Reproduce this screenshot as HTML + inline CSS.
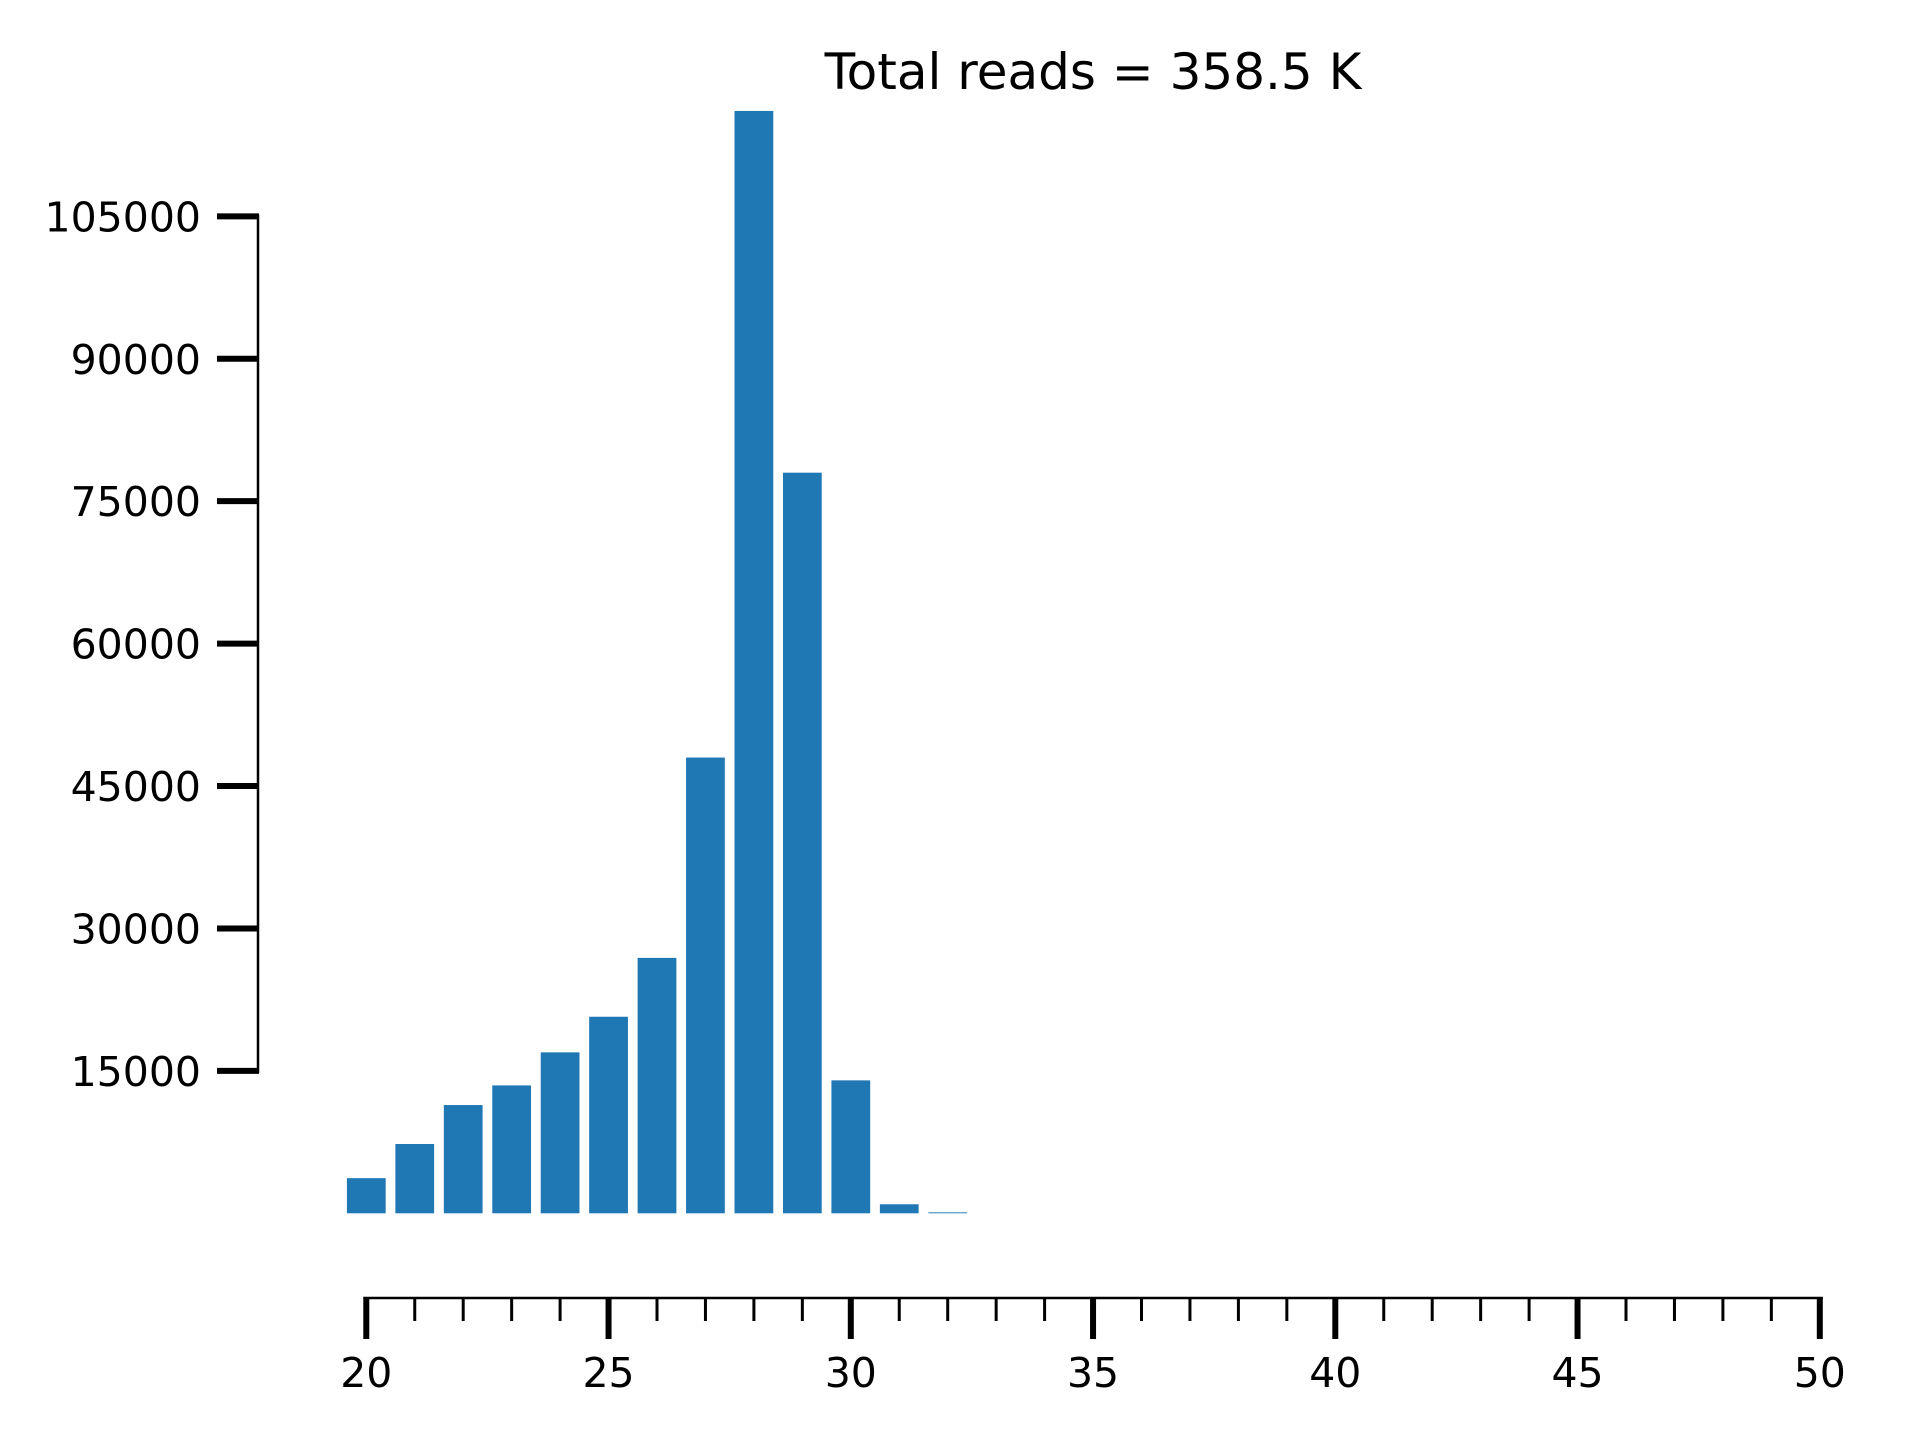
<!DOCTYPE html>
<html><head><meta charset="utf-8"><style>
html,body{margin:0;padding:0;background:#fff;width:1920px;height:1440px;overflow:hidden}
svg{display:block;font-family:"DejaVu Sans","Liberation Sans",sans-serif}
</style></head><body>
<svg id="chart" width="1920" height="1440" viewBox="0 0 1920 1440" xmlns="http://www.w3.org/2000/svg">
<text x="1093" y="89" font-size="50" text-anchor="middle" fill="#000">Total reads = 358.5 K</text>
<g id="bars"></g>
<g id="yaxis"></g>
<g id="xaxis"></g>
</svg>
<script>
const categories = [20,21,22,23,24,25,26,27,28,29,30,31,32];
const counts = [3700,7300,11400,13470,16950,20700,26900,48000,116100,78000,14000,950,100];
const yTicks = [15000,30000,45000,60000,75000,90000,105000];
const xTicks = [20,25,30,35,40,45,50];
const xMinorStart = 20, xMinorEnd = 50;

const NS = 'http://www.w3.org/2000/svg';
function xs(v){ return 366.3 + (v - 20) * 48.45; }
function ys(v){ return 1213.3 - v * 0.009495; }
function mk(tag, attrs, parent){ const e=document.createElementNS(NS,tag); for(const k in attrs) e.setAttribute(k,attrs[k]); parent.appendChild(e); return e; }

const bars = document.getElementById('bars');
categories.forEach((c,i)=>{
  const w = 0.8*48.45;
  const r = mk('rect',{x:xs(c)-w/2,y:ys(counts[i]),width:w,height:ys(0)-ys(counts[i]),fill:'#1f77b4'},bars);
  
  
});

const ya = document.getElementById('yaxis');
const sp = mk('line',{x1:258,x2:258,y1:ys(yTicks[0])+2,y2:ys(yTicks[yTicks.length-1])-2,stroke:'#000','stroke-width':2.5},ya);


yTicks.forEach(t=>{
  const l = mk('line',{x1:217,x2:259,y1:ys(t),y2:ys(t),stroke:'#000','stroke-width':6},ya);
  
  
  const tx = mk('text',{x:201,y:ys(t)+15,'font-size':41,'text-anchor':'end',fill:'#000'},ya);
  tx.textContent = t;
  
  
});

const xa = document.getElementById('xaxis');
const xsp = mk('line',{x1:xs(xMinorStart)-3,x2:xs(xMinorEnd)+3,y1:1298,y2:1298,stroke:'#000','stroke-width':2.5},xa);


for(let v=xMinorStart; v<=xMinorEnd; v++){
  if(xTicks.includes(v)) continue;
  const l = mk('line',{x1:xs(v),x2:xs(v),y1:1298,y2:1321,stroke:'#000','stroke-width':3},xa);
  
  
}
xTicks.forEach(t=>{
  const l = mk('line',{x1:xs(t),x2:xs(t),y1:1297,y2:1339,stroke:'#000','stroke-width':6},xa);
  
  
  const tx = mk('text',{x:xs(t),y:1387,'font-size':41,'text-anchor':'middle',fill:'#000'},xa);
  tx.textContent = t;
  
  
});
</script>
</body></html>
